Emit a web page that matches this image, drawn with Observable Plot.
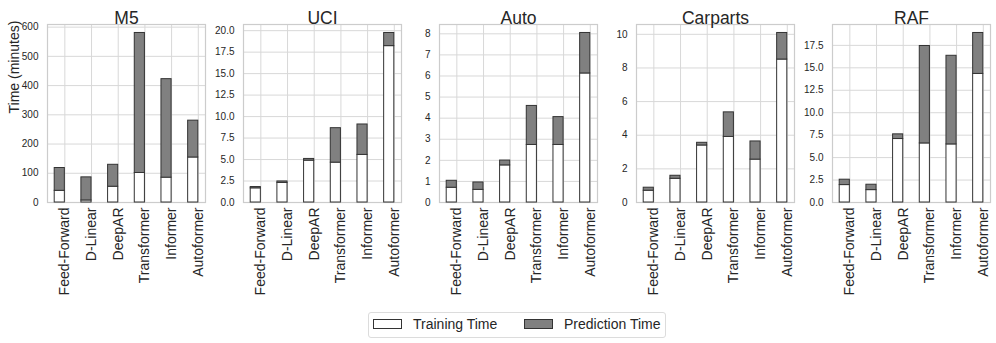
<!DOCTYPE html>
<html>
<head>
<meta charset="utf-8">
<script src="https://cdn.jsdelivr.net/npm/d3@7"></script>
<script src="https://cdn.jsdelivr.net/npm/@observablehq/plot@0.6"></script>
<style>
  body { margin: 0; background: white; font-family: "Liberation Sans", Arial, sans-serif; }
  #wrap { position: relative; width: 996px; height: 343px; overflow: hidden; }
  #wrap svg { position: absolute; top: 0; overflow: visible; background: transparent; }
  #legend { position: absolute; left: 368px; top: 312px; width: 296px; height: 24px; border: 1px solid #dcdcdc; border-radius: 3px; color: #262626; font-size: 14px; }
  .sw { position: absolute; top: 6px; width: 27px; height: 8px; border: 1px solid #333; }
  .lt { position: absolute; top: 3px; line-height: 16px; white-space: nowrap; }
</style>
</head>
<body>
<div id="wrap">
  <div id="legend">
    <div class="sw" style="left:4px; background:#ffffff;"></div>
    <div class="lt" style="left:44px;">Training Time</div>
    <div class="sw" style="left:155px; background:#808080;"></div>
    <div class="lt" style="left:195px;">Prediction Time</div>
  </div>
</div>
<script>
const models = ["Feed-Forward", "D-Linear", "DeepAR", "Transformer", "Informer", "Autoformer"];
const datasets = ["M5", "UCI", "Auto", "Carparts", "RAF"];

// Training time (bottom, white) per dataset
const trainM5 = [40, 7, 54, 101, 85, 154];
const trainUCI = [1.65, 2.28, 4.87, 4.64, 5.54, 18.2];
const trainAuto = [0.70, 0.60, 1.76, 2.73, 2.73, 6.12];
const trainCarparts = [0.70, 1.41, 3.39, 3.90, 2.55, 8.50];
const trainRAF = [1.94, 1.38, 7.07, 6.58, 6.47, 14.32];

// Prediction time (stacked on top, gray)
const predM5 = [78, 79, 75, 479, 337, 126];
const predUCI = [0.15, 0.17, 0.20, 4.01, 3.54, 1.53];
const predAuto = [0.33, 0.35, 0.23, 1.85, 1.32, 1.92];
const predCarparts = [0.18, 0.18, 0.16, 1.46, 1.08, 1.58];
const predRAF = [0.60, 0.60, 0.52, 10.85, 9.87, 4.56];

// Y tick values per panel
const ticksM5 = [0, 100, 200, 300, 400, 500, 600];
const ticksUCI = [0, 2.5, 5, 7.5, 10, 12.5, 15, 17.5, 20];
const ticksAuto = [0, 1, 2, 3, 4, 5, 6, 7, 8];
const ticksCarparts = [0, 2, 4, 6, 8, 10];
const ticksRAF = [0, 2.5, 5, 7.5, 10, 12.5, 15, 17.5];

const yLabel = "Time (minutes)";
const legendLabels = ["Training Time", "Prediction Time"];

const panels = [
  {name: "M5", train: trainM5, pred: predM5, ticks: ticksM5, fmt: d3.format("d")},
  {name: "UCI", train: trainUCI, pred: predUCI, ticks: ticksUCI, fmt: d3.format(".1f")},
  {name: "Auto", train: trainAuto, pred: predAuto, ticks: ticksAuto, fmt: d3.format("d")},
  {name: "Carparts", train: trainCarparts, pred: predCarparts, ticks: ticksCarparts, fmt: d3.format("d")},
  {name: "RAF", train: trainRAF, pred: predRAF, ticks: ticksRAF, fmt: d3.format(".1f")}
];

const frameLefts = [47, 243, 439, 636, 832];
const frameW = 158;
const barW = 0.38;
const wrap = document.getElementById("wrap");
const ink = "#262626";

panels.forEach((p, k) => {
  const rows = models.map((m, i) => ({i, model: m, train: p.train[i], total: p.train[i] + p.pred[i]}));
  const maxTotal = d3.max(rows, d => d.total);
  const ml = k === 0 ? 47 : 40;
  const mr = 4;
  const chart = Plot.plot({
    width: ml + frameW + mr,
    height: 310,
    marginLeft: ml,
    marginRight: mr,
    marginTop: 24,
    marginBottom: 108,
    style: {fontFamily: "'Liberation Sans', Arial, sans-serif", color: ink, background: "transparent", overflow: "visible"},
    x: {domain: [-barW - 0.27, 5.27], ticks: [0, 1, 2, 3, 4, 5]},
    y: {domain: [0, maxTotal * 1.05], ticks: p.ticks},
    marks: [
      Plot.gridY(p.ticks, {stroke: "#d8d8d8", strokeOpacity: 1, strokeWidth: 1}),
      Plot.gridX([0, 1, 2, 3, 4, 5], {stroke: "#d8d8d8", strokeOpacity: 1, strokeWidth: 1}),
      Plot.frame({stroke: "#cccccc", strokeWidth: 1.2}),
      Plot.axisY(p.ticks, {
        tickSize: 0, tickPadding: 9, fontSize: 10, tickFormat: p.fmt, label: null
      }),
      Plot.axisX([0, 1, 2, 3, 4, 5], {
        tickSize: 0, tickPadding: 5, tickRotate: -90, fontSize: 14,
        tickFormat: i => models[i], label: null
      }),
      Plot.rectY(rows, {x1: d => d.i - barW, x2: d => d.i, y1: d => 0, y2: d => d.train,
        fill: "#ffffff", stroke: "#333333", strokeWidth: 1}),
      Plot.rectY(rows, {x1: d => d.i - barW, x2: d => d.i, y1: d => d.train, y2: d => d.total,
        fill: "#808080", stroke: "#333333", strokeWidth: 1}),
      Plot.text([p.name], {frameAnchor: "top", dy: -13, fontSize: 17.5, fill: ink, text: d => d}),
      k === 0 ? Plot.text([yLabel], {frameAnchor: "left", dx: -33, rotate: -90, fontSize: 14, fill: ink, text: d => d}) : null
    ]
  });
  chart.style.left = (frameLefts[k] - ml) + "px";
  wrap.appendChild(chart);
});
</script>
</body>
</html>
